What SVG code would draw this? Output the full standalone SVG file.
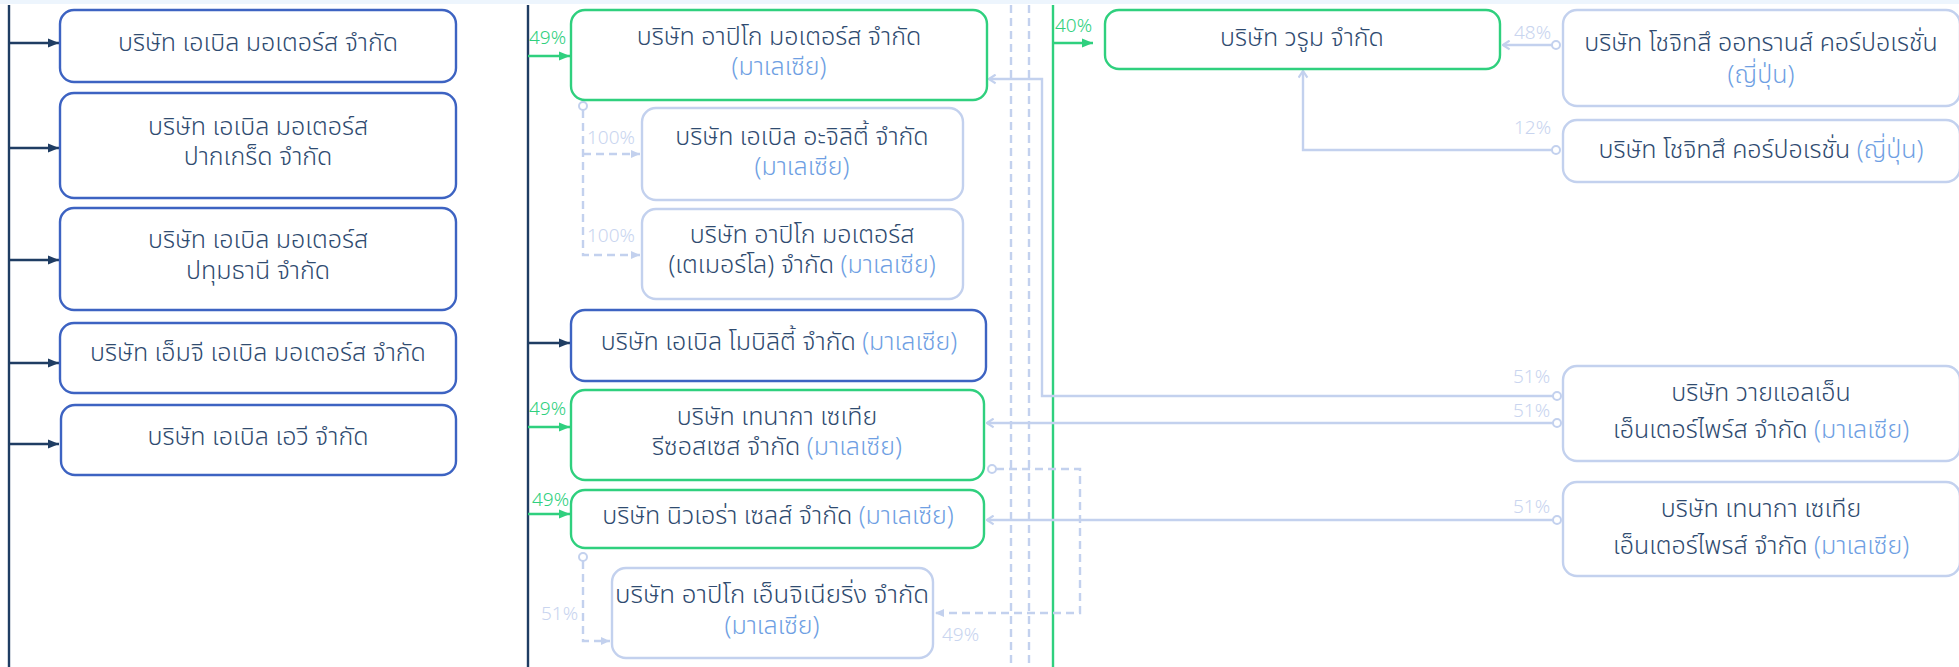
<svg xmlns="http://www.w3.org/2000/svg" width="1959" height="667" viewBox="0 0 1959 667">
<style>
  .t { font-family: "Noto Sans Thai", "Noto Sans Thai UI", "Leelawadee UI", Tahoma, "Noto Sans", sans-serif; font-size: 25px; font-weight: 300; fill: #2f4b70; text-anchor: middle; }
  .m { fill: #6f9fe3; }
  .p { font-family: "Noto Sans", "Open Sans", sans-serif; font-size: 19px; font-weight: 300; }
  .pg { fill: #2fd07e; }
  .pl { fill: #c9d5ef; }
  .nb { fill: #ffffff; stroke: #3d63c2; stroke-width: 2.4; }
  .ng { fill: #ffffff; stroke: #2fd07e; stroke-width: 2.4; }
  .nl { fill: #ffffff; stroke: #c3d1ee; stroke-width: 2.4; }
  .navy { stroke: #1f3d63; stroke-width: 2.4; fill: none; }
  .green { stroke: #2fd07e; stroke-width: 2.4; fill: none; }
  .light { stroke: #c3d1ee; stroke-width: 2.4; fill: none; }
  .dash { stroke: #c3d1ee; stroke-width: 2.4; fill: none; stroke-dasharray: 8 5; }
  .dot { fill: #ffffff; stroke: #c3d1ee; stroke-width: 2; }
</style>
<defs>
  <marker id="aNavy" viewBox="0 0 10 10" refX="10" refY="5" markerWidth="11" markerHeight="11" markerUnits="userSpaceOnUse" orient="auto">
    <path d="M0,1 L10,5 L0,9 z" fill="#1f3d63"/>
  </marker>
  <marker id="aGreen" viewBox="0 0 10 10" refX="10" refY="5" markerWidth="11" markerHeight="11" markerUnits="userSpaceOnUse" orient="auto">
    <path d="M0,1 L10,5 L0,9 z" fill="#2fd07e"/>
  </marker>
  <marker id="aLight" viewBox="0 0 10 10" refX="9" refY="5" markerWidth="11" markerHeight="11" markerUnits="userSpaceOnUse" orient="auto">
    <path d="M3,1 L9,5 L3,9" fill="none" stroke="#c3d1ee" stroke-width="2"/>
  </marker>
  <marker id="aLightF" viewBox="0 0 10 10" refX="10" refY="5" markerWidth="10" markerHeight="10" markerUnits="userSpaceOnUse" orient="auto">
    <path d="M1,1 L10,5 L1,9 z" fill="#c3d1ee"/>
  </marker>
</defs>
<rect x="0" y="0" width="1959" height="667" fill="#ffffff"/>
<rect x="0" y="0" width="1959" height="4" fill="#edf5fd"/>

<g id="connectors">
  <line class="navy" x1="9" y1="5" x2="9" y2="667"/>
  <line class="navy" x1="528" y1="5" x2="528" y2="667"/>
  <line class="green" x1="1053" y1="5" x2="1053" y2="667"/>
  <line class="dash" x1="1011" y1="5" x2="1011" y2="667"/>
  <line class="dash" x1="1029" y1="5" x2="1029" y2="667"/>

  <line class="navy" x1="9" y1="43" x2="59" y2="43" marker-end="url(#aNavy)"/>
  <line class="navy" x1="9" y1="148" x2="59" y2="148" marker-end="url(#aNavy)"/>
  <line class="navy" x1="9" y1="260" x2="59" y2="260" marker-end="url(#aNavy)"/>
  <line class="navy" x1="9" y1="363" x2="59" y2="363" marker-end="url(#aNavy)"/>
  <line class="navy" x1="9" y1="444" x2="59" y2="444" marker-end="url(#aNavy)"/>
  <line class="navy" x1="528" y1="343" x2="570" y2="343" marker-end="url(#aNavy)"/>

  <line class="green" x1="528" y1="56" x2="570" y2="56" marker-end="url(#aGreen)"/>
  <line class="green" x1="528" y1="427" x2="570" y2="427" marker-end="url(#aGreen)"/>
  <line class="green" x1="528" y1="514" x2="570" y2="514" marker-end="url(#aGreen)"/>
  <line class="green" x1="1053" y1="43" x2="1093" y2="43" marker-end="url(#aGreen)"/>

  <path class="light" d="M1553,396 H1042 V79 H989" marker-end="url(#aLight)"/>
  <path class="light" d="M1553,423 H987" marker-end="url(#aLight)"/>
  <path class="light" d="M1553,520 H987" marker-end="url(#aLight)"/>
  <path class="light" d="M1552,45 H1503" marker-end="url(#aLight)"/>
  <path class="light" d="M1552,150 H1303 V71" marker-end="url(#aLight)"/>

  <path class="dash" d="M583,110 V255 H640" marker-end="url(#aLightF)"/>
  <path class="dash" d="M583,154 H640" marker-end="url(#aLightF)"/>
  <path class="dash" d="M583,561 V641 H610" marker-end="url(#aLightF)"/>
  <path class="dash" d="M996,469 H1080 V613 H935" marker-end="url(#aLightF)"/>

  <circle class="dot" cx="583" cy="106" r="4"/>
  <circle class="dot" cx="583" cy="557" r="4"/>
  <circle class="dot" cx="992" cy="469" r="4"/>
  <circle class="dot" cx="1557" cy="396" r="4"/>
  <circle class="dot" cx="1557" cy="423" r="4"/>
  <circle class="dot" cx="1557" cy="520" r="4"/>
  <circle class="dot" cx="1556" cy="45" r="4"/>
  <circle class="dot" cx="1556" cy="150" r="4"/>

  <text class="p pg" x="529" y="44">49%</text>
  <text class="p pg" x="529" y="415">49%</text>
  <text class="p pg" x="532" y="506">49%</text>
  <text class="p pg" x="1055" y="32">40%</text>
  <text class="p pl" x="587" y="144">100%</text>
  <text class="p pl" x="587" y="242">100%</text>
  <text class="p pl" x="541" y="620">51%</text>
  <text class="p pl" x="942" y="641">49%</text>
  <text class="p pl" x="1514" y="39">48%</text>
  <text class="p pl" x="1514" y="134">12%</text>
  <text class="p pl" x="1513" y="383">51%</text>
  <text class="p pl" x="1513" y="417">51%</text>
  <text class="p pl" x="1513" y="513">51%</text>
</g>

<g id="n-l1"><rect class="nb" x="60" y="10" width="396" height="72" rx="14"/>
  <text class="t" x="258" y="51">บริษัท เอเบิล มอเตอร์ส จำกัด</text></g>
<g id="n-l2"><rect class="nb" x="60" y="93" width="396" height="105" rx="14"/>
  <text class="t" x="258" y="135">บริษัท เอเบิล มอเตอร์ส</text>
  <text class="t" x="258" y="165">ปากเกร็ด จำกัด</text></g>
<g id="n-l3"><rect class="nb" x="60" y="208" width="396" height="102" rx="14"/>
  <text class="t" x="258" y="248">บริษัท เอเบิล มอเตอร์ส</text>
  <text class="t" x="258" y="279">ปทุมธานี จำกัด</text></g>
<g id="n-l4"><rect class="nb" x="60" y="323" width="396" height="70" rx="14"/>
  <text class="t" x="258" y="361">บริษัท เอ็มจี เอเบิล มอเตอร์ส จำกัด</text></g>
<g id="n-l5"><rect class="nb" x="61" y="405" width="395" height="70" rx="14"/>
  <text class="t" x="258" y="445">บริษัท เอเบิล เอวี จำกัด</text></g>

<g id="n-a"><rect class="ng" x="571" y="10" width="416" height="90" rx="14"/>
  <text class="t" x="779" y="45">บริษัท อาปิโก มอเตอร์ส จำกัด</text>
  <text class="t m" x="779" y="75">(มาเลเซีย)</text></g>
<g id="n-b"><rect class="nl" x="642" y="108" width="321" height="92" rx="14"/>
  <text class="t" x="802" y="145">บริษัท เอเบิล อะจิลิตี้ จำกัด</text>
  <text class="t m" x="802" y="175">(มาเลเซีย)</text></g>
<g id="n-c"><rect class="nl" x="642" y="209" width="321" height="90" rx="14"/>
  <text class="t" x="802" y="243">บริษัท อาปิโก มอเตอร์ส</text>
  <text class="t" x="802" y="273">(เตเมอร์โล) จำกัด <tspan class="m">(มาเลเซีย)</tspan></text></g>
<g id="n-d"><rect class="nb" x="571" y="310" width="415" height="71" rx="14"/>
  <text class="t" x="779" y="350">บริษัท เอเบิล โมบิลิตี้ จำกัด <tspan class="m">(มาเลเซีย)</tspan></text></g>
<g id="n-e"><rect class="ng" x="571" y="390" width="413" height="90" rx="14"/>
  <text class="t" x="777" y="425">บริษัท เทนากา เซเทีย</text>
  <text class="t" x="777" y="455">รีซอสเซส จำกัด <tspan class="m">(มาเลเซีย)</tspan></text></g>
<g id="n-f"><rect class="ng" x="571" y="490" width="413" height="58" rx="14"/>
  <text class="t" x="778" y="524">บริษัท นิวเอร่า เซลส์ จำกัด <tspan class="m">(มาเลเซีย)</tspan></text></g>
<g id="n-g"><rect class="nl" x="612" y="568" width="321" height="90" rx="14"/>
  <text class="t" x="772" y="603" textLength="314" lengthAdjust="spacingAndGlyphs">บริษัท อาปิโก เอ็นจิเนียริ่ง จำกัด</text>
  <text class="t m" x="772" y="634">(มาเลเซีย)</text></g>

<g id="n-v"><rect class="ng" x="1105" y="10" width="395" height="59" rx="14"/>
  <text class="t" x="1302" y="46">บริษัท วรูม จำกัด</text></g>
<g id="n-s1"><rect class="nl" x="1563" y="10" width="397" height="96" rx="14"/>
  <text class="t" x="1761" y="51">บริษัท โชจิทสึ ออทรานส์ คอร์ปอเรชั่น</text>
  <text class="t m" x="1761" y="83">(ญี่ปุ่น)</text></g>
<g id="n-s2"><rect class="nl" x="1563" y="120" width="397" height="62" rx="14"/>
  <text class="t" x="1761" y="158">บริษัท โชจิทสึ คอร์ปอเรชั่น <tspan class="m">(ญี่ปุ่น)</tspan></text></g>
<g id="n-y"><rect class="nl" x="1563" y="366" width="397" height="95" rx="14"/>
  <text class="t" x="1761" y="401">บริษัท วายแอลเอ็น</text>
  <text class="t" x="1761" y="438">เอ็นเตอร์ไพร์ส จำกัด <tspan class="m">(มาเลเซีย)</tspan></text></g>
<g id="n-t"><rect class="nl" x="1563" y="482" width="397" height="94" rx="14"/>
  <text class="t" x="1761" y="517">บริษัท เทนากา เซเทีย</text>
  <text class="t" x="1761" y="554">เอ็นเตอร์ไพรส์ จำกัด <tspan class="m">(มาเลเซีย)</tspan></text></g>
</svg>
